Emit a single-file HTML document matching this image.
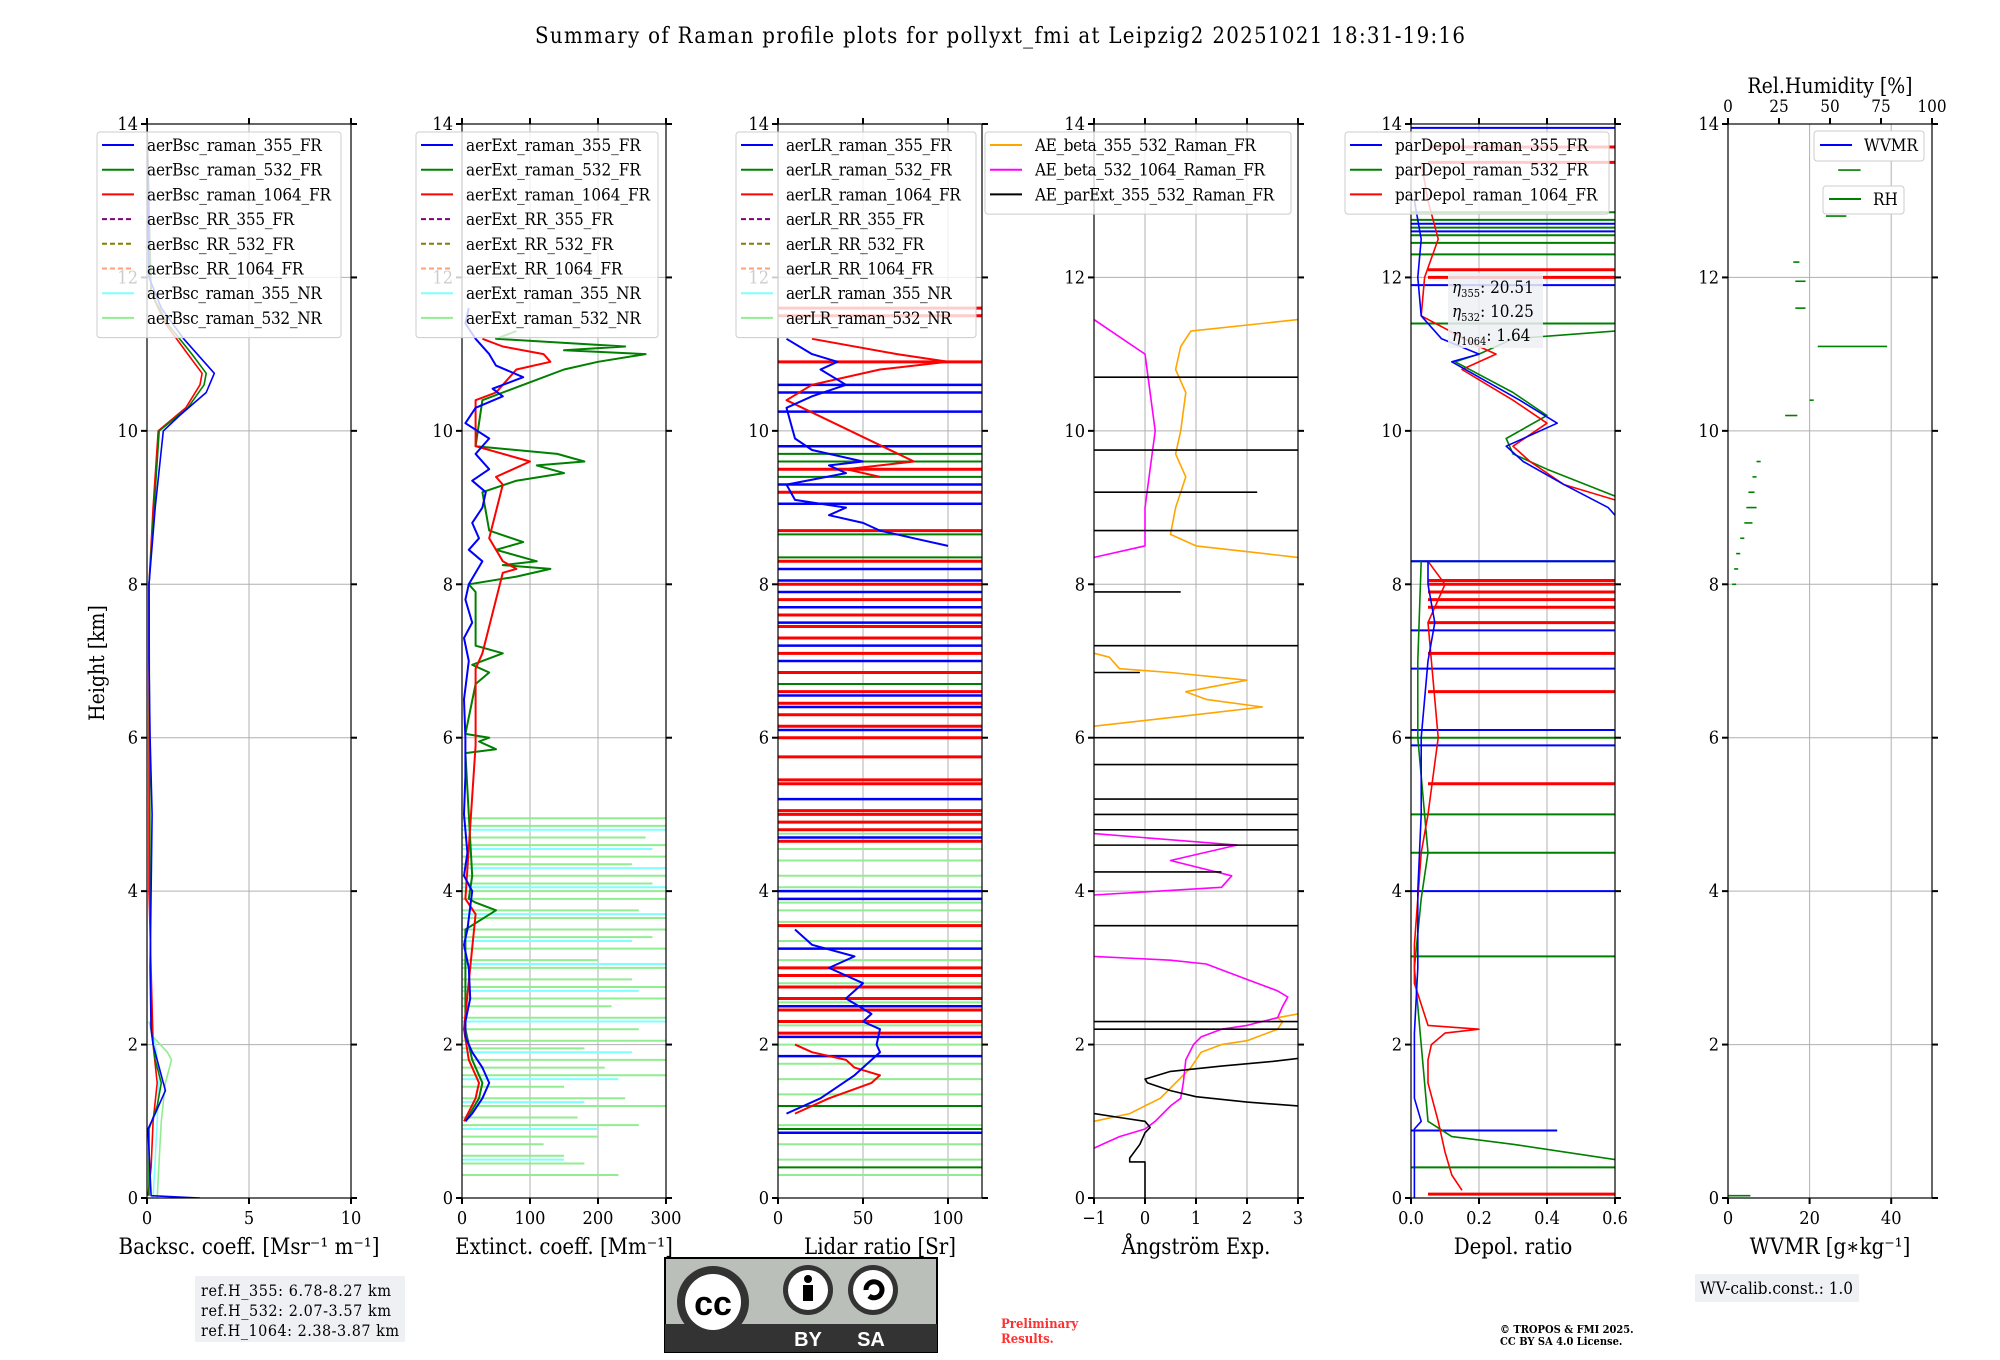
<!DOCTYPE html>
<html><head><meta charset="utf-8"><style>
html,body{margin:0;padding:0;background:#fff;}
svg{display:block;font-family:"DejaVu Serif Condensed","DejaVu Serif","Liberation Serif",serif;}
</style></head><body>
<svg id="fig" width="2000" height="1360" viewBox="0 0 2000 1360" xmlns="http://www.w3.org/2000/svg">
<text x="1000" y="43" text-anchor="middle" font-size="22" textLength="930">Summary of Raman profile plots for pollyxt_fmi at Leipzig2 20251021 18:31-19:16</text>
<text transform="translate(104,663) rotate(-90)" text-anchor="middle" font-size="21">Height [km]</text>
<g id="plots"></g>
<g>
<rect x="195" y="1276" width="210" height="66" fill="#eef0f4"/>
<text x="201" y="1296" font-size="16" textLength="190">ref.H_355: 6.78-8.27 km</text>
<text x="201" y="1316" font-size="16" textLength="190">ref.H_532: 2.07-3.57 km</text>
<text x="201" y="1336" font-size="16" textLength="198">ref.H_1064: 2.38-3.87 km</text>
</g>
<g>
<rect x="665" y="1258" width="272" height="94" fill="#bbbfba" stroke="#000" stroke-width="2"/>
<rect x="665" y="1324" width="272" height="28" fill="#333"/>
<circle cx="713" cy="1302" r="36" fill="#333"/><circle cx="713" cy="1302" r="28" fill="#fff"/>
<text x="713" y="1315" text-anchor="middle" font-size="34" font-weight="bold" font-family="Liberation Sans,sans-serif">cc</text>
<circle cx="808" cy="1290" r="25" fill="#333"/><circle cx="808" cy="1290" r="20" fill="#fff"/>
<circle cx="808" cy="1279" r="4" fill="#000"/><rect x="803" y="1285" width="10" height="16" fill="#000"/>
<circle cx="873" cy="1290" r="25" fill="#333"/><circle cx="873" cy="1290" r="20" fill="#fff"/>
<path d="M866 1290 a8 8 0 1 1 3 6" fill="none" stroke="#000" stroke-width="5"/>
<text x="808" y="1346" text-anchor="middle" font-size="20" fill="#fff" font-weight="bold" font-family="Liberation Sans,sans-serif">BY</text>
<text x="871" y="1346" text-anchor="middle" font-size="20" fill="#fff" font-weight="bold" font-family="Liberation Sans,sans-serif">SA</text>
</g>
<text x="1001" y="1328" font-size="13" fill="#ff3030" font-weight="bold">Preliminary</text>
<text x="1001" y="1343" font-size="13" fill="#ff3030" font-weight="bold">Results.</text>
<text x="1500" y="1333" font-size="11" font-weight="bold">© TROPOS &amp; FMI 2025.</text>
<text x="1500" y="1345" font-size="11" font-weight="bold">CC BY SA 4.0 License.</text>
<g>
<rect x="1695" y="1274" width="164" height="28" fill="#eef0f4"/>
<text x="1700" y="1294" font-size="17" textLength="153">WV-calib.const.: 1.0</text>
</g>
</svg>
<script>
// ---------------- data ----------------
const heightTicks = [0,2,4,6,8,10,12,14];
// Panel 1 backscatter [height km, value]
const bsc355 = [[0,2.6],[0.03,0.2],[0.9,0.05],[1.1,0.4],[1.4,0.9],[1.7,0.6],[2.0,0.3],[2.2,0.2],[3,0.15],[4,0.2],[5,0.25],[6,0.15],[7,0.1],[8,0.1],[9,0.4],[10,0.8],[10.2,1.6],[10.5,2.9],[10.75,3.3],[10.9,2.8],[11.2,1.8],[11.6,0.7],[12,0.1],[14,0]];
const bsc532 = [[0.03,0.1],[0.9,0.1],[1.2,0.5],[1.5,0.7],[1.8,0.4],[2.2,0.2],[4,0.15],[8,0.1],[9,0.35],[10,0.6],[10.3,2.0],[10.6,2.8],[10.75,2.9],[11,2.2],[11.4,1.0],[11.8,0.2],[14,0]];
const bsc1064 = [[0.03,0.05],[0.4,0.2],[1.0,0.3],[1.5,0.5],[2.0,0.3],[4,0.1],[8,0.1],[9,0.3],[10,0.55],[10.3,1.9],[10.6,2.6],[10.75,2.7],[11,2.0],[11.4,0.9],[11.8,0.2],[14,0]];
const bsc532NR = [[0,0.5],[0.5,0.6],[1.0,0.7],[1.5,0.9],[1.8,1.2],[1.9,1.0],[2.1,0.3],[2.3,0.1]];
const bsc355NR = [[0,0.3],[0.5,0.4],[1.0,0.5],[1.6,0.6],[2.0,0.4],[2.3,0.1]];
// Panel 2 extinction
const ext355 = [[1.0,5],[1.1,15],[1.3,30],[1.5,40],[1.7,30],[1.9,15],[2.1,5],[2.3,5],[2.6,12],[3,10],[3.3,3],[3.5,8],[4,15],[4.2,3],[4.5,8],[5,3],[5.5,5],[6,5],[6.5,3],[7,10],[7.3,3],[7.5,15],[7.8,5],[8,10],[8.3,30],[8.45,10],[8.6,25],[8.8,15],[9,30],[9.2,35],[9.35,15],[9.5,40],[9.7,20],[9.9,40],[10.1,5],[10.3,20],[10.45,60],[10.55,45],[10.7,90],[10.85,50],[11.0,40],[11.2,20],[11.4,5],[11.6,10]];
const ext532 = [[1.0,5],[1.3,25],[1.5,30],[1.8,15],[2.2,5],[3.5,5],[3.75,50],[3.85,20],[3.9,10],[4.2,15],[5.8,5],[5.85,50],[5.95,25],[6.0,40],[6.05,5],[6.7,20],[6.85,40],[6.95,15],[7.1,60],[7.2,20],[7.9,20],[8.0,10],[8.1,80],[8.2,130],[8.25,60],[8.3,110],[8.45,50],[8.55,90],[8.7,40],[9.2,30],[9.35,80],[9.45,150],[9.55,110],[9.6,180],[9.7,140],[9.8,20],[10.4,30],[10.5,60],[10.8,150],[10.9,200],[11.0,270],[11.05,150],[11.1,240],[11.2,50],[11.3,80]];
const ext1064 = [[1.0,3],[1.3,20],[1.5,25],[1.8,10],[2.2,3],[3.7,20],[3.9,5],[5.9,20],[6.9,20],[7.1,30],[8.15,60],[8.2,80],[8.3,60],[8.6,40],[9.3,60],[9.4,50],[9.6,100],[9.8,20],[10.4,20],[10.5,50],[10.8,80],[10.9,130],[11.0,120],[11.1,60],[11.2,30]];
const ext532NRh = [0.3,0.45,0.55,0.7,0.8,0.95,1.05,1.2,1.3,1.45,1.6,1.7,1.8,1.95,2.05,2.2,2.35,2.5,2.6,2.75,2.85,3.0,3.1,3.25,3.4,3.5,3.65,3.75,3.9,4.0,4.1,4.2,4.35,4.45,4.6,4.7,4.85,4.95];
const ext532NRv = [230,180,150,120,200,260,170,300,240,150,300,210,300,180,300,260,300,220,300,300,250,300,200,300,280,300,300,260,300,300,280,300,250,300,300,270,300,300];
const ext355NRh = [0.5,0.9,1.25,1.55,1.9,2.3,2.7,3.05,3.35,3.7,4.05,4.3,4.55,4.8];
const ext355NRv = [150,200,180,230,250,300,260,300,250,300,300,300,280,300];
// Panel 3 lidar ratio
const lr355a = [[1.1,5],[1.3,25],[1.6,45],[1.9,60],[2.0,58],[2.2,60],[2.3,50],[2.4,55],[2.6,40],[2.8,50],[3.0,30],[3.15,45],[3.3,20],[3.5,10]];
const lr355b = [[8.5,100],[8.6,80],[8.7,60],[8.8,50],[8.9,30],[9.0,40],[9.1,10],[9.3,5],[9.45,40],[9.55,30],[9.6,50],[9.75,20],[9.9,10],[10.3,5],[10.45,20],[10.6,40],[10.8,25],[10.9,35],[11.0,20],[11.2,5]];
const lr1064a = [[1.1,10],[1.3,30],[1.5,55],[1.6,60],[1.7,45],[1.8,40],[1.9,20],[2.0,10]];
const lr1064b = [[9.4,60],[9.5,40],[9.6,80],[10.4,5],[10.6,20],[10.8,60],[10.9,100],[11.0,70],[11.2,20]];
const lrRedSpikes = [2.15,2.3,2.45,2.6,2.75,2.9,3.0,3.55,4.65,4.8,4.9,5.0,5.05,5.4,5.45,5.75,6.0,6.15,6.3,6.45,6.6,6.85,7.1,7.3,7.45,7.6,7.8,8.0,8.3,8.7,9.2,9.5,10.9,11.5,11.6];
const lrBlueSpikes = [0.85,1.85,2.1,2.5,3.25,3.9,4.0,4.7,5.2,6.1,6.4,6.55,7.0,7.2,7.5,7.7,7.9,8.05,8.2,9.05,9.3,9.8,10.25,10.5,10.6];
const lrGreenSpikes = [0.4,0.9,1.2,3.55,5.0,6.7,7.0,8.35,8.65,9.4,9.6,9.7];
const lrLGSpikes = [0.3,0.5,0.7,0.95,1.35,1.55,1.75,2.0,2.25,2.55,2.8,3.1,3.35,3.6,3.75,3.85,4.05,4.2,4.4,4.55,4.75,4.9];
// Panel 4 Angstrom exponents
const aeBeta355 = [[1.0,-1],[1.1,-0.3],[1.2,0],[1.3,0.3],[1.5,0.6],[1.7,0.9],[1.9,1.1],[2.0,1.5],[2.05,2.0],[2.1,2.2],[2.2,2.6],[2.3,2.7],[2.35,2.6],[2.4,3.0]];
const aeBeta355b = [[6.15,-1],[6.3,1.0],[6.4,2.3],[6.5,1.2],[6.6,0.8],[6.75,2.0],[6.85,0.5],[6.9,-0.5],[7.05,-0.7],[7.1,-1]];
const aeBeta355c = [[8.35,3],[8.5,1.0],[8.65,0.5],[9.0,0.6],[9.4,0.8],[9.7,0.6],[10.0,0.7],[10.5,0.8],[10.8,0.6],[11.1,0.7],[11.3,0.9],[11.45,3]];
const aeBeta532 = [[0.65,-1],[0.8,-0.5],[0.9,0],[1.0,0.2],[1.2,0.5],[1.3,0.7],[1.5,0.75],[1.8,0.8],[2.0,0.95],[2.1,1.1],[2.2,1.5],[2.25,2.0],[2.35,2.6],[2.5,2.7],[2.62,2.8],[2.7,2.6],[2.8,2.2],[2.95,1.6],[3.05,1.2],[3.1,0.5],[3.15,-1]];
const aeBeta532b = [[3.95,-1],[4.05,1.5],[4.2,1.7],[4.4,0.5],[4.6,1.8],[4.75,-1]];
const aeBeta532c = [[8.35,-1],[8.5,0],[9.0,0],[9.5,0.1],[10.0,0.2],[10.5,0.1],[11.0,0.0],[11.45,-1]];
const aeExt = [[0,0],[0.47,0],[0.47,-0.3],[0.52,-0.3],[0.7,-0.1],[0.85,0],[0.92,0.1],[1.0,0],[1.05,-0.5],[1.1,-1]];
const aeExt2 = [[1.2,3],[1.25,2],[1.32,1],[1.4,0.5],[1.5,0.05],[1.55,0.0],[1.65,0.5],[1.72,1.5],[1.78,2.5],[1.82,3]];
const aeExtLinesH = [2.2,2.3,3.55,4.25,4.6,4.8,5.0,5.2,5.65,6.0,6.85,7.2,7.9,8.7,9.2,9.75,10.7];
const aeExtLinesX0 = [-1,-1,-1,-1,-1,-1,-1,-1,-1,-1,-1,-1,-1,-1,-1,-1,-1];
const aeExtLinesX1 = [3,3,3,1.5,3,3,3,3,3,3,-0.1,3,0.7,3,2.2,3,3];
// Panel 5 depolarisation
const dep355 = [[0,0.01],[0.6,0.01],[0.9,0.01],[1.0,0.03],[1.3,0.01],[2.15,0.01],[3,0.02],[4,0.02],[5,0.03],[6,0.03],[7,0.05],[7.5,0.07],[8.0,0.05],[8.3,0.05]];
const dep355b = [[8.9,0.6],[9.0,0.58],[9.3,0.45],[9.6,0.33],[9.8,0.28],[10.1,0.43],[10.4,0.32],[10.7,0.2],[10.9,0.12],[11.0,0.2],[11.2,0.09],[11.5,0.03],[12,0.02],[12.5,0.03],[13,0.01]];
const dep532 = [[0.5,0.6],[0.7,0.3],[0.8,0.12],[1.0,0.05],[2.0,0.03],[3.0,0.01],[3.9,0.03],[4.5,0.05],[5,0.04],[6,0.02],[7,0.02],[8.3,0.03]];
const dep532b = [[9.15,0.6],[9.5,0.4],[9.7,0.3],[9.9,0.28],[10.2,0.4],[10.5,0.3],[10.9,0.13],[11.0,0.2],[11.2,0.3],[11.3,0.6]];
const dep1064 = [[0.1,0.15],[0.3,0.12],[0.6,0.1],[1.0,0.08],[1.5,0.05],[1.8,0.05],[2.0,0.06],[2.15,0.1],[2.2,0.2],[2.25,0.05],[2.8,0.01],[3.3,0.01],[4.5,0.03],[5,0.05],[6,0.08],[7,0.06],[7.5,0.05],[8,0.1],[8.3,0.05]];
const dep1064b = [[9.1,0.6],[9.3,0.45],[9.6,0.35],[9.8,0.3],[10.1,0.4],[10.4,0.3],[10.8,0.15],[11.0,0.25],[11.1,0.2],[11.5,0.03],[12,0.04],[12.5,0.08],[13,0.05],[13.5,0.03]];
const depRedSpikes = [0.05,5.4,6.6,7.1,7.5,7.7,7.8,7.9,8.0,8.05,12.0,12.1,13.5,13.7];
const depBlueSpikes = [4.0,5.9,6.1,6.9,7.4,8.3,11.9,12.6,12.7,13.95];
const depGreenSpikes = [0.4,3.15,4.5,5.0,6.0,8.3,11.4,12.3,12.45,12.55,12.65,12.75,12.85];
// Panel 6 RH segments [height, x1 %, x2 %]
const rhH = [13.4,12.8,12.2,11.95,11.6,11.1,10.4,10.2,9.6,9.4,9.2,9.0,8.8,8.6,8.4,8.2,8.0];
const rhX1 = [54,48,32,33,33,44,40,28,14,12,10,9,8,6,4,3,2];
const rhX2 = [65,58,35,38,38,78,42,34,16,14,13,14,12,8,6,5,4];
const wvmr = [[0.03,0],[0.03,5.5]];
// ---------------- layout ----------------
const NS = "http://www.w3.org/2000/svg";
const TOP = 124, BOT = 1198, W = 204;
const panels = [
 {x:147, min:0, max:10, ticks:[0,5,10], lab:["0","5","10"], title:"Backsc. coeff. [Msr⁻¹ m⁻¹]", name:"backscatter"},
 {x:462, min:0, max:300, ticks:[0,100,200,300], lab:["0","100","200","300"], title:"Extinct. coeff. [Mm⁻¹]", name:"extinction"},
 {x:778, min:0, max:120, ticks:[0,50,100], lab:["0","50","100"], title:"Lidar ratio [Sr]", name:"lidar-ratio"},
 {x:1094, min:-1, max:3, ticks:[-1,0,1,2,3], lab:["−1","0","1","2","3"], title:"Ångström Exp.", name:"angstrom"},
 {x:1411, min:0, max:0.6, ticks:[0,0.2,0.4,0.6], lab:["0.0","0.2","0.4","0.6"], title:"Depol. ratio", name:"depol"},
 {x:1728, min:0, max:50, ticks:[0,20,40], lab:["0","20","40"], title:"WVMR [g∗kg⁻¹]", name:"wvmr"}
];
const root = document.getElementById('plots');
function yS(h){ return BOT - h*(BOT-TOP)/14; }
function xS(p,v){ return p.x + (v-p.min)/(p.max-p.min)*W; }
function mk(tag, attrs, parent){ const e=document.createElementNS(NS,tag); for(const k in attrs) e.setAttribute(k,attrs[k]); (parent||root).appendChild(e); return e; }

function axes(p){
  const g = mk('g',{});
  
  
  p.g = g;
  const clip = mk('clipPath',{id:'c'+p.name}, g);
  mk('rect',{x:p.x,y:TOP,width:W,height:BOT-TOP}, clip);
  p.plot = mk('g',{'clip-path':'url(#c'+p.name+')'}, g);
  for(const t of p.ticks){ const gl=mk('line',{x1:xS(p,t),x2:xS(p,t),y1:TOP,y2:BOT,stroke:'#b0b0b0','stroke-width':1}, p.plot);
      }
  for(const h of heightTicks){ const gl=mk('line',{x1:p.x,x2:p.x+W,y1:yS(h),y2:yS(h),stroke:'#b0b0b0','stroke-width':1}, p.plot);
      }
}
function frame(p, topTicks){
  const g=p.g;
  const fr = mk('rect',{x:p.x,y:TOP,width:W,height:BOT-TOP,fill:'none',stroke:'#000','stroke-width':1.2}, g);
   
  p.ticks.forEach((t,i)=>{
    const x=xS(p,t);
    mk('line',{x1:x,x2:x,y1:BOT,y2:BOT+6,stroke:'#000','stroke-width':2}, g);
    if(!topTicks) mk('line',{x1:x,x2:x,y1:TOP,y2:TOP-6,stroke:'#000','stroke-width':2}, g);
    const tl = mk('text',{x:x,y:BOT+26,'text-anchor':'middle','font-size':18}, g);
    tl.textContent = p.lab[i];
     
  });
  heightTicks.forEach(h=>{
    const y=yS(h);
    mk('line',{x1:p.x-6,x2:p.x,y1:y,y2:y,stroke:'#000','stroke-width':2}, g);
    mk('line',{x1:p.x+W,x2:p.x+W+6,y1:y,y2:y,stroke:'#000','stroke-width':2}, g);
    const tl = mk('text',{x:p.x-9,y:y+6,'text-anchor':'end','font-size':18}, g);
    tl.textContent = String(h);
     
  });
  const at = mk('text',{x:p.x+W/2,y:BOT+56,'text-anchor':'middle','font-size':22}, g);
  at.textContent = p.title;
   
}
function line(p, pts, color, w, name, dash){
  const d = pts.map(q=>xS(p,q[1]).toFixed(1)+','+yS(q[0]).toFixed(1)).join(' ');
  const e = mk('polyline',{points:d,fill:'none',stroke:color,'stroke-width':w||1.6,'stroke-linejoin':'round'}, p.plot);
  if(dash) e.setAttribute('stroke-dasharray',dash);
  
  
}
function spikes(p, hs, x0s, x1s, color, w, name){
  hs.forEach((h,i)=>{
    const e = mk('line',{x1:xS(p,x0s[i]),x2:xS(p,x1s[i]),y1:yS(h),y2:yS(h),stroke:color,'stroke-width':w}, p.plot);
    
    
  });
}
function legend(x,y,w,entries,name){
  const g = mk('g',{});
  
  
  mk('rect',{x:x,y:y,width:w,height:entries.length*24.7+8,rx:3,fill:'#fff','fill-opacity':0.8,stroke:'#ccc'}, g);
  entries.forEach((en,i)=>{
    const cy = y+13+i*24.7;
    const s = mk('line',{x1:x+5,x2:x+37,y1:cy,y2:cy,stroke:en[1],'stroke-width':2}, g);
    if(en[2]) s.setAttribute('stroke-dasharray','5,3');
    const t = mk('text',{x:x+50,y:cy+6,'font-size':17,textLength:en[0].length*9.2}, g);
    t.textContent = en[0];
    
    
  });
}
const fillArr=(n,v)=>new Array(n).fill(v);

panels.forEach(p=>axes(p));
const [P1,P2,P3,P4,P5,P6] = panels;
// Panel 1
line(P1,bsc355NR,'#7fffff',1.6,'bsc-355-nr-line');
line(P1,bsc532NR,'#90ee90',1.6,'bsc-532-nr-line');
line(P1,bsc1064,'#ff0000',1.6,'bsc-1064-line');
line(P1,bsc532,'#008000',1.6,'bsc-532-line');
line(P1,bsc355,'#0000ff',1.6,'bsc-355-line');
// Panel 2
spikes(P2,ext532NRh,fillArr(ext532NRh.length,0),ext532NRv,'#90ee90',2,'ext-532-nr-spike');
spikes(P2,ext355NRh,fillArr(ext355NRh.length,0),ext355NRv,'#7fffff',2,'ext-355-nr-spike');
line(P2,ext532,'#008000',2,'ext-532-line');
line(P2,ext1064,'#ff0000',2,'ext-1064-line');
line(P2,ext355,'#0000ff',2,'ext-355-line');
// Panel 3
spikes(P3,lrLGSpikes,fillArr(lrLGSpikes.length,0),fillArr(lrLGSpikes.length,120),'#90ee90',2,'lr-532-nr-spike');
spikes(P3,lrGreenSpikes,fillArr(lrGreenSpikes.length,0),fillArr(lrGreenSpikes.length,120),'#008000',2,'lr-532-spike');
spikes(P3,lrBlueSpikes,fillArr(lrBlueSpikes.length,0),fillArr(lrBlueSpikes.length,120),'#0000ff',2.5,'lr-355-spike');
spikes(P3,lrRedSpikes,fillArr(lrRedSpikes.length,0),fillArr(lrRedSpikes.length,120),'#ff0000',3,'lr-1064-spike');
line(P3,lr1064a,'#ff0000',2,'lr-1064-line');
line(P3,lr1064b,'#ff0000',2,'lr-1064-line');
line(P3,lr355a,'#0000ff',2,'lr-355-line');
line(P3,lr355b,'#0000ff',2,'lr-355-line');
// Panel 4
line(P4,aeBeta355,'#ffa500',1.6,'ae-beta-355-532-line');
line(P4,aeBeta355b,'#ffa500',1.6,'ae-beta-355-532-line');
line(P4,aeBeta355c,'#ffa500',1.6,'ae-beta-355-532-line');
line(P4,aeBeta532,'#ff00ff',1.6,'ae-beta-532-1064-line');
line(P4,aeBeta532b,'#ff00ff',1.6,'ae-beta-532-1064-line');
line(P4,aeBeta532c,'#ff00ff',1.6,'ae-beta-532-1064-line');
line(P4,aeExt,'#000',1.6,'ae-parext-line');
line(P4,aeExt2,'#000',1.6,'ae-parext-line');
spikes(P4,aeExtLinesH,aeExtLinesX0,aeExtLinesX1,'#000',1.6,'ae-parext-spike');
// Panel 5
spikes(P5,depGreenSpikes,fillArr(depGreenSpikes.length,0),fillArr(depGreenSpikes.length,0.6),'#008000',2,'depol-532-spike');
spikes(P5,depBlueSpikes,fillArr(depBlueSpikes.length,0),fillArr(depBlueSpikes.length,0.6),'#0000ff',2,'depol-355-spike');
spikes(P5,[0.88],[0],[0.43],'#0000ff',2,'depol-355-spike');
spikes(P5,depRedSpikes,fillArr(depRedSpikes.length,0.05),fillArr(depRedSpikes.length,0.6),'#ff0000',3,'depol-1064-spike');
line(P5,dep532,'#008000',1.6,'depol-532-line');
line(P5,dep532b,'#008000',1.6,'depol-532-line');
line(P5,dep1064,'#ff0000',1.6,'depol-1064-line');
line(P5,dep1064b,'#ff0000',1.6,'depol-1064-line');
line(P5,dep355,'#0000ff',1.6,'depol-355-line');
line(P5,dep355b,'#0000ff',1.6,'depol-355-line');
// Panel 6
line(P6,wvmr,'#008000',1.6,'wvmr-line');
spikes(P6,rhH,rhX1.map(v=>v/2),rhX2.map(v=>v/2),'#008000',1.6,'rh-segment');

panels.forEach((p,i)=>frame(p, i===5));
// RH top axis
[0,25,50,75,100].forEach(v=>{
  const x = P6.x + v/100*W;
  mk('line',{x1:x,x2:x,y1:TOP,y2:TOP-6,stroke:'#000','stroke-width':2}, P6.g);
  const t = mk('text',{x:x,y:TOP-12,'text-anchor':'middle','font-size':17}, P6.g);
  t.textContent = String(v);
  
  
});
const rt = mk('text',{x:P6.x+W/2,y:93,'text-anchor':'middle','font-size':21}, P6.g);
rt.textContent = 'Rel.Humidity [%]';



// legends
const bscNames = ['raman_355_FR','raman_532_FR','raman_1064_FR','RR_355_FR','RR_532_FR','RR_1064_FR','raman_355_NR','raman_532_NR'];
const legCols = [['#0000ff'],['#008000'],['#ff0000'],['#800080',1],['#808000',1],['#ffa07a',1],['#7fffff'],['#90ee90']];
legend(97,132,244,bscNames.map((n,i)=>['aerBsc_'+n,legCols[i][0],legCols[i][1]]),'backscatter-legend');
legend(416,132,242,bscNames.map((n,i)=>['aerExt_'+n,legCols[i][0],legCols[i][1]]),'extinction-legend');
legend(736,132,240,bscNames.map((n,i)=>['aerLR_'+n,legCols[i][0],legCols[i][1]]),'lidar-ratio-legend');
legend(985,132,306,[['AE_beta_355_532_Raman_FR','#ffa500'],['AE_beta_532_1064_Raman_FR','#ff00ff'],['AE_parExt_355_532_Raman_FR','#000']],'angstrom-legend');
legend(1345,132,264,[['parDepol_raman_355_FR','#0000ff'],['parDepol_raman_532_FR','#008000'],['parDepol_raman_1064_FR','#ff0000']],'depol-legend');
(function(){
  const g = mk('g',{});
  
  
  mk('rect',{x:1814,y:131,width:110,height:30,rx:3,fill:'#fff',stroke:'#ccc'},g);
  mk('line',{x1:1820,x2:1852,y1:145,y2:145,stroke:'#0000ff','stroke-width':2},g);
  const t=mk('text',{x:1864,y:151,'font-size':17},g); t.textContent='WVMR';
  const g2 = mk('g',{});
  
  
  mk('rect',{x:1823,y:186,width:81,height:28,rx:3,fill:'#fff',stroke:'#ccc'},g2);
  mk('line',{x1:1829,x2:1861,y1:199,y2:199,stroke:'#008000','stroke-width':2},g2);
  const t2=mk('text',{x:1873,y:205,'font-size':17},g2); t2.textContent='RH';
})();
(function(){
  const g = mk('g',{});
  
  
  mk('rect',{x:1448,y:273,width:95,height:75,fill:'#eef0f4','fill-opacity':0.85},g);
  [['355','20.51'],['532','10.25'],['1064','1.64']].forEach((r,i)=>{
    const t=mk('text',{x:1452,y:293+i*24,'font-size':17},g);
    t.innerHTML='<tspan font-style="italic">η</tspan><tspan font-size="11" dy="4">'+r[0]+'</tspan><tspan dy="-4">: '+r[1]+'</tspan>';
  });
})();
</script>
</body></html>
